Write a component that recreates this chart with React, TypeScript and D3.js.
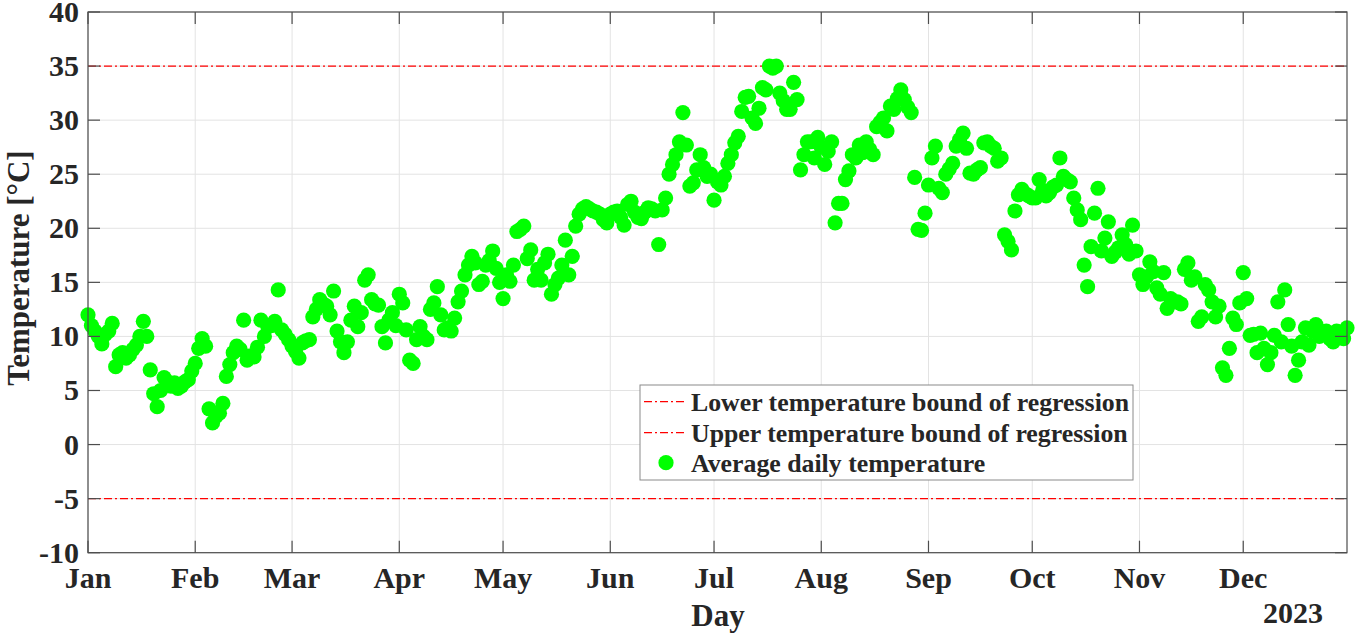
import React from "react";
import * as d3 from "d3";

const jan = [12.0, 11.0, 10.5, 10.0, 9.3, 10.2, 10.5, 11.2, 7.2, 8.3, 8.5, 8.0, 8.3, 8.8, 9.2, 10.0, 11.4, 10.0, 6.9, 4.7, 3.5, 5.0, 6.2, 5.8, 5.4, 5.7, 5.2, 5.4, 5.8, 6.0, 6.8];
const feb = [7.5, 8.9, 9.8, 9.1, 3.3, 2.0, 2.6, 2.9, 3.8, 6.3, 7.4, 8.5, 9.1, 8.8, 11.5, 7.8, 8.2, 8.1, 9.0, 11.5, 10.0, 10.9, 11.0, 11.4, 14.3, 10.6, 10.2, 9.7];
const mar = [9.1, 8.6, 8.0, 9.4, 9.6, 9.7, 11.8, 12.5, 13.4, 13.0, 12.8, 12.0, 14.2, 10.5, 9.5, 8.5, 9.5, 11.5, 12.8, 10.9, 12.2, 15.2, 15.7, 13.4, 13.0, 12.9, 10.9, 9.4, 11.5, 12.2, 11.0];
const apr = [13.9, 13.1, 10.6, 7.8, 7.5, 9.7, 10.9, 10.0, 9.7, 12.5, 13.1, 14.6, 12.0, 10.6, 10.8, 10.5, 11.7, 13.2, 14.2, 15.7, 16.6, 17.4, 16.8, 14.8, 15.1, 16.6, 17.0, 17.9, 16.3, 15.0];
const may = [13.5, 15.7, 15.1, 16.6, 19.7, 19.9, 20.2, 17.2, 18.0, 15.2, 16.2, 15.2, 16.8, 17.6, 13.9, 14.8, 15.4, 16.6, 18.9, 15.7, 17.4, 20.2, 21.3, 21.8, 22.0, 21.8, 21.6, 21.5, 21.3, 20.8, 20.5];
const jun = [21.3, 21.5, 21.6, 21.0, 20.3, 22.2, 22.5, 21.5, 21.0, 20.9, 21.5, 21.9, 21.8, 21.6, 18.5, 21.7, 22.8, 25.0, 25.9, 26.8, 28.0, 30.7, 27.7, 23.9, 24.2, 25.4, 26.8, 25.6, 24.8, 25.0];
const jul = [22.6, 24.3, 24.0, 24.8, 26.0, 26.8, 27.9, 28.5, 30.8, 32.1, 32.2, 30.2, 29.7, 31.1, 33.0, 32.8, 35.0, 34.8, 35.0, 32.5, 31.8, 31.0, 31.0, 33.5, 31.9, 25.4, 26.8, 28.0, 28.0, 26.5, 28.4];
const aug = [27.5, 25.9, 27.1, 28.0, 20.5, 22.3, 22.3, 24.5, 25.3, 26.8, 26.5, 27.7, 27.0, 28.0, 27.3, 26.8, 29.4, 29.8, 30.2, 29.0, 31.3, 31.0, 32.0, 32.8, 31.9, 31.2, 30.7, 24.7, 19.9, 19.8, 21.4];
const sep = [24.0, 26.5, 27.6, 23.7, 23.3, 25.0, 25.5, 26.0, 27.6, 28.2, 28.8, 27.4, 25.1, 25.0, 25.4, 25.6, 27.9, 28.0, 27.6, 27.4, 26.2, 26.5, 19.4, 18.8, 18.0, 21.6, 23.1, 23.6, 23.2, 23.0];
const oct = [22.8, 22.8, 24.5, 23.5, 23.0, 23.3, 23.8, 24.0, 26.5, 24.8, 24.5, 24.3, 22.8, 21.7, 20.8, 16.6, 14.6, 18.3, 21.4, 23.7, 17.9, 19.1, 20.6, 17.4, 17.8, 18.2, 19.4, 18.5, 17.6, 20.3, 17.9];
const nov = [15.7, 14.8, 15.5, 16.9, 16.0, 14.5, 13.9, 15.9, 12.6, 13.5, 13.2, 13.2, 13.0, 16.2, 16.8, 15.2, 15.5, 11.4, 11.8, 14.8, 14.3, 13.2, 11.8, 12.8, 7.1, 6.4, 8.9, 11.7, 11.1, 13.1];
const dec = [15.9, 13.5, 10.1, 10.2, 8.5, 10.3, 8.9, 7.4, 8.5, 10.1, 13.2, 9.5, 14.3, 11.1, 9.1, 6.4, 7.8, 9.5, 10.8, 9.2, 10.5, 11.1, 10.0, 10.3, 10.5, 9.8, 9.5, 10.5, 10.0, 9.8, 10.8];

const yTicks = [-10, -5, 0, 5, 10, 15, 20, 25, 30, 35, 40];
const lowerBound = -5;
const upperBound = 35;
const legendLabels = [
  "Lower temperature bound of regression",
  "Upper temperature bound of regression",
  "Average daily temperature",
];

const W = 1356;
const H = 635;
const L = 88, R = 1347, T = 12, B = 552.7;
const TXT = "#262626";
const FONT = "'Liberation Serif', 'Times New Roman', serif";
const DASH = "8,3,2,3";

export default function App() {
  const start = new Date(2023, 0, 1);
  const end = new Date(2023, 11, 31);
  const x = d3.scaleTime().domain([start, end]).range([L, R]);
  const y = d3.scaleLinear().domain([-10, 40]).range([B, T]);

  const temps = [...jan, ...feb, ...mar, ...apr, ...may, ...jun, ...jul, ...aug, ...sep, ...oct, ...nov, ...dec];
  const data = temps.map((t, i) => ({ date: d3.timeDay.offset(start, i), t }));
  const months = d3.timeMonth.range(start, new Date(2023, 11, 2));
  const fmt = d3.timeFormat("%b");
  const tickLen = 12;
  const rows = [401.7, 432.7, 462.7];

  return (
    <svg width={W} height={H} style={{ position: "absolute", left: 0, top: 0, background: "#fff" }} fontFamily={FONT}>
      <rect x={0} y={0} width={W} height={H} fill="#fff" />
      {months.map((m, i) => (
        <line key={"gx" + i} x1={x(m)} x2={x(m)} y1={T} y2={B} stroke="#e3e3e3" strokeWidth={1} />
      ))}
      {yTicks.map((v) => (
        <line key={"gy" + v} x1={L} x2={R} y1={y(v)} y2={y(v)} stroke="#e3e3e3" strokeWidth={1} />
      ))}
      <line x1={L} x2={R} y1={y(upperBound)} y2={y(upperBound)} stroke="#ff0000" strokeWidth={1.2} strokeDasharray={DASH} />
      <line x1={L} x2={R} y1={y(lowerBound)} y2={y(lowerBound)} stroke="#ff0000" strokeWidth={1.2} strokeDasharray={DASH} />
      {data.map((d, i) => (
        <circle key={"p" + i} cx={x(d.date)} cy={y(d.t)} r={7.6} fill="#00ff00" />
      ))}
      <rect x={L} y={T} width={R - L} height={B - T} fill="none" stroke="#4d4d4d" strokeWidth={1.2} />
      {months.map((m, i) => (
        <g key={"tx" + i}>
          <line x1={x(m)} x2={x(m)} y1={B} y2={B - tickLen} stroke="#4d4d4d" strokeWidth={1.2} />
          <line x1={x(m)} x2={x(m)} y1={T} y2={T + tickLen} stroke="#4d4d4d" strokeWidth={1.2} />
          <text x={x(m)} y={588} textAnchor="middle" fontSize={30} fontWeight="bold" fill={TXT}>
            {fmt(m)}
          </text>
        </g>
      ))}
      {yTicks.map((v) => (
        <g key={"ty" + v}>
          <line x1={L} x2={L + tickLen} y1={y(v)} y2={y(v)} stroke="#4d4d4d" strokeWidth={1.2} />
          <line x1={R} x2={R - tickLen} y1={y(v)} y2={y(v)} stroke="#4d4d4d" strokeWidth={1.2} />
          <text x={79} y={y(v) + 10} textAnchor="end" fontSize={30} fontWeight="bold" fill={TXT}>
            {v}
          </text>
        </g>
      ))}
      <text x={718} y={626} textAnchor="middle" fontSize={31} fontWeight="bold" fill={TXT}>Day</text>
      <text x={1323} y={623} textAnchor="end" fontSize={30} fontWeight="bold" fill={TXT}>2023</text>
      <text transform="translate(29,268) rotate(-90)" textAnchor="middle" fontSize={31} fontWeight="bold" fill={TXT}>
        Temperature [°C]
      </text>
      <rect x={640} y={385} width={493} height={95} fill="#fff" stroke="#8a8a8a" strokeWidth={1} />
      {rows.slice(0, 2).map((ry, i) => (
        <line key={"ll" + i} x1={644} x2={687} y1={ry} y2={ry} stroke="#ff0000" strokeWidth={1.2} strokeDasharray={DASH} />
      ))}
      <circle cx={666} cy={rows[2]} r={7.6} fill="#00ff00" />
      {legendLabels.map((s, i) => (
        <text key={"lt" + i} x={691} y={rows[i] + 9} fontSize={25.8} fontWeight="bold" fill={TXT}>
          {s}
        </text>
      ))}
    </svg>
  );
}
